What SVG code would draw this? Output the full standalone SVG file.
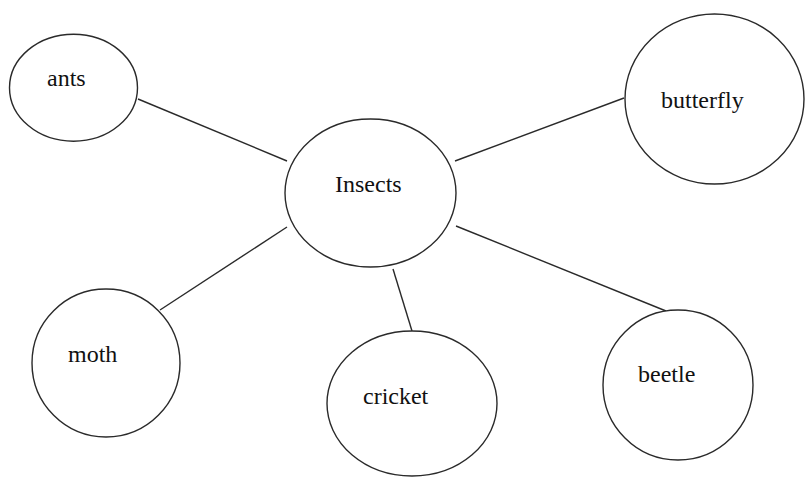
<svg xmlns="http://www.w3.org/2000/svg" width="805" height="477" viewBox="0 0 805 477">
<style>
.n{fill:#fff;stroke:#2a2a2a;stroke-width:1.4}
.c line{stroke:#2a2a2a;stroke-width:1.4}
text{font-size:24px;fill:#111}
</style>
<rect width="805" height="477" fill="#fff"/>
<g class="c" id="connectors">
<line x1="138" y1="99" x2="287" y2="161"/>
<line x1="455" y1="161" x2="624" y2="98"/>
<line x1="160" y1="310" x2="287" y2="227"/>
<line x1="393" y1="269" x2="412" y2="331"/>
<line x1="456" y1="226" x2="666" y2="311"/>
</g>
<g font-family="'Liberation Serif', serif">
<g id="insects"><ellipse class="n" cx="370.5" cy="193" rx="85.5" ry="74"/><text x="335" y="192">Insects</text></g>
<g id="ants"><ellipse class="n" cx="73.5" cy="87.7" rx="64" ry="53.5"/><text x="47" y="86">ants</text></g>
<g id="butterfly"><ellipse class="n" cx="714.5" cy="99" rx="89.5" ry="85"/><text x="661" y="108">butterfly</text></g>
<g id="moth"><ellipse class="n" cx="106" cy="363" rx="74" ry="74"/><text x="68" y="362">moth</text></g>
<g id="cricket"><ellipse class="n" cx="412" cy="403.5" rx="85" ry="72.5"/><text x="363" y="404">cricket</text></g>
<g id="beetle"><ellipse class="n" cx="678" cy="385" rx="75" ry="75"/><text x="638" y="382">beetle</text></g>
</g>
</svg>
